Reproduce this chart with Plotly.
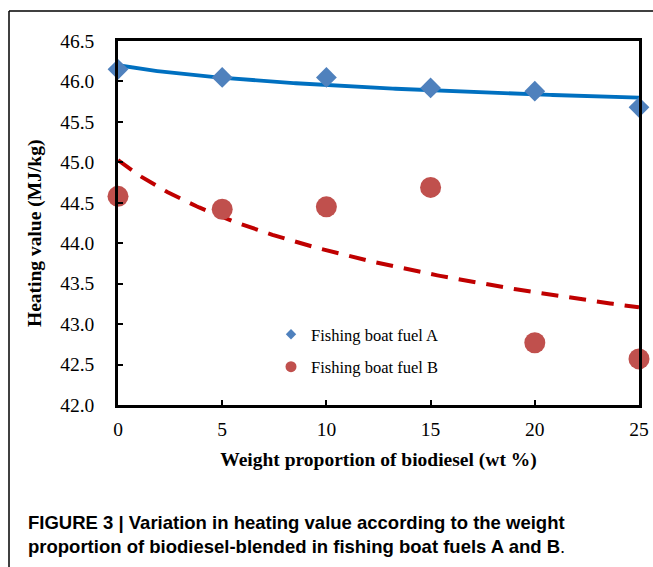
import numpy as np
import plotly.graph_objects as go

# ---- data ----
wt_percent = [0, 5, 10, 15, 20, 25]
fuel_a = [46.15, 46.05, 46.05, 45.92, 45.88, 45.68]
fuel_b = [44.58, 44.42, 44.45, 44.69, 42.77, 42.57]
y_ticks = [42.0, 42.5, 43.0, 43.5, 44.0, 44.5, 45.0, 45.5, 46.0, 46.5]
x_ticks = [0, 5, 10, 15, 20, 25]
name_a = "Fishing boat fuel A"
name_b = "Fishing boat fuel B"
x_title = "Weight proportion of biodiesel (wt %)"
y_title = "Heating value (MJ/kg)"
caption_1 = "FIGURE 3 | Variation in heating value according to the weight"
caption_2 = "proportion of biodiesel-blended in fishing boat fuels A and B"

# ---- logarithmic trendlines (Excel-style, on point index 1..6) ----
def log_trend(xs, ys):
    idx = np.log(np.asarray(xs, float) / 5.0 + 1.0)
    b, a = np.polyfit(idx, np.asarray(ys, float), 1)
    xx = np.linspace(min(xs), max(xs), 200)
    return xx, a + b * np.log(xx / 5.0 + 1.0)

xa, ya = log_trend(wt_percent, fuel_a)
xb, yb = log_trend(wt_percent, fuel_b)

# ---- layout geometry ----
W, H = 653, 567
L, R, T, B = 118, 639, 41, 405
pw, ph = R - L, B - T
def px_x(p):
    return (p - L) / pw
def px_y(p):
    return (B - p) / ph

BLUE_M = "#4F81BD"
RED_M = "#C0504D"
BLUE_L = "#0070C0"
RED_L = "#C00000"
SERIF = "Liberation Serif, Times New Roman, serif"
SANS = "Liberation Sans, Arial, sans-serif"

fig = go.Figure()
fig.add_trace(go.Scatter(x=xa, y=ya, mode="lines", line=dict(color=BLUE_L, width=3.8),
                         showlegend=False, hoverinfo="skip"))
fig.add_trace(go.Scatter(x=xb, y=yb, mode="lines",
                         line=dict(color=RED_L, width=4, dash="17px,11px"),
                         showlegend=False, hoverinfo="skip"))
fig.add_trace(go.Scatter(x=wt_percent, y=fuel_a, mode="markers", name=name_a,
                         marker=dict(symbol="diamond", size=16, color=BLUE_M),
                         showlegend=False, cliponaxis=False))
fig.add_trace(go.Scatter(x=wt_percent, y=fuel_b, mode="markers", name=name_b,
                         marker=dict(symbol="circle", size=21, color=RED_M),
                         showlegend=False, cliponaxis=False))
# legend entries (small symbols as in the original)
fig.add_trace(go.Scatter(x=[None], y=[None], mode="markers", name=name_a, legendgroup="a",
                         marker=dict(symbol="diamond", size=8, color=BLUE_M)))
fig.add_trace(go.Scatter(x=[None], y=[None], mode="markers", name=name_b, legendgroup="b",
                         marker=dict(symbol="circle", size=11, color=RED_M)))

axis_common = dict(showline=True, linecolor="black", linewidth=2.5, mirror=True,
                   ticks="inside", ticklen=5, tickwidth=2, tickcolor="black",
                   showgrid=False, zeroline=False,
                   tickfont=dict(family=SERIF, size=19.5, color="black"))

fig.update_xaxes(range=[0, 25], tickvals=x_ticks, ticktext=[str(v) for v in x_ticks],
                 ticklabelstandoff=5,
                 title=dict(text="<b>" + x_title + "</b>", standoff=14,
                            font=dict(family=SERIF, size=19.5, color="black")),
                 **axis_common)
fig.update_yaxes(range=[42.0, 46.5], tickvals=y_ticks, ticktext=["%.1f" % v for v in y_ticks],
                 ticklabelstandoff=17,
                 **axis_common)

fig.update_layout(
    width=W, height=H,
    margin=dict(l=L, r=W - R, t=T, b=H - B, autoexpand=False),
    paper_bgcolor="white", plot_bgcolor="white",
    legend=dict(x=px_x(271), y=px_y(317), xanchor="left", yanchor="top",
                bgcolor="rgba(0,0,0,0)", font=dict(family=SERIF, size=16.5, color="black"),
                tracegroupgap=8),
    shapes=[
        dict(type="line", xref="paper", yref="paper", x0=px_x(9), x1=px_x(9),
             y0=px_y(11), y1=px_y(567), line=dict(color="black", width=1.5)),
        dict(type="line", xref="paper", yref="paper", x0=px_x(9), x1=px_x(653),
             y0=px_y(11), y1=px_y(11), line=dict(color="black", width=1.5)),
    ],
    annotations=[
        dict(xref="paper", yref="paper", x=px_x(35), y=px_y(234), xanchor="center", yanchor="middle",
             showarrow=False, textangle=-90, text="<b>" + y_title + "</b>",
             font=dict(family=SERIF, size=19.5, color="black")),
        dict(xref="paper", yref="paper", x=px_x(26), y=px_y(522), xanchor="left", yanchor="middle",
             showarrow=False, text="<b>" + caption_1 + "</b>",
             font=dict(family=SANS, size=18.5, color="black")),
        dict(xref="paper", yref="paper", x=px_x(26), y=px_y(546), xanchor="left", yanchor="middle",
             showarrow=False, text="<b>" + caption_2 + "</b>.",
             font=dict(family=SANS, size=18.5, color="black")),
    ],
)

fig.write_html("out.html", config={"displayModeBar": False},
               post_script="document.body.style.margin='0px';document.body.style.overflow='hidden';")
